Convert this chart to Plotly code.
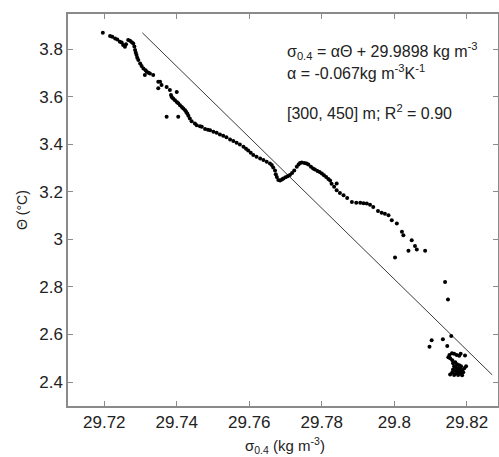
import plotly.graph_objects as go

# Scatter data (sigma_0.4, Theta)
sigma = [
    29.7196, 29.7216, 29.7222, 29.7230, 29.7236, 29.7243, 29.7248, 29.7252, 29.7257, 29.7260,
    29.7266, 29.7271, 29.7276, 29.7280, 29.7283, 29.7285, 29.7287, 29.7289, 29.7291, 29.7294,
    29.7299, 29.7303, 29.7308, 29.7312, 29.7314, 29.7317, 29.7322, 29.7326, 29.7335, 29.7349,
    29.7354, 29.7349, 29.7358, 29.7372, 29.7381, 29.7400, 29.7384, 29.7386, 29.7390, 29.7395,
    29.7400, 29.7404, 29.7409, 29.7414, 29.7418, 29.7423, 29.7426, 29.7429, 29.7432, 29.7436,
    29.7441, 29.7372, 29.7404, 29.7450, 29.7455, 29.7464, 29.7469, 29.7478, 29.7486, 29.7492,
    29.7501, 29.7510, 29.7519, 29.7528, 29.7537, 29.7547, 29.7556, 29.7565, 29.7574, 29.7584,
    29.7591, 29.7597, 29.7604, 29.7611, 29.7620, 29.7630, 29.7639, 29.7648, 29.7657, 29.7662,
    29.7666, 29.7671, 29.7673, 29.7676, 29.7680, 29.7685, 29.7690, 29.7694, 29.7700, 29.7706,
    29.7712, 29.7718, 29.7724, 29.7731, 29.7736, 29.7740, 29.7745, 29.7752, 29.7758, 29.7763,
    29.7770, 29.7776, 29.7781, 29.7788, 29.7794, 29.7800, 29.7806, 29.7812, 29.7818, 29.7823,
    29.7827, 29.7834, 29.7841, 29.7841, 29.7850, 29.7860, 29.7870, 29.7883, 29.7895, 29.7906,
    29.7915, 29.7924, 29.7933, 29.7942, 29.7955, 29.7965, 29.7974, 29.7984, 29.7993, 29.8007,
    29.8021, 29.8025, 29.8048, 29.8057, 29.8062, 29.8039, 29.8085, 29.8002,
    29.8140, 29.8148, 29.8157, 29.8103, 29.8097, 29.8134, 29.8146,
    29.8149, 29.8152, 29.8159, 29.8165, 29.8172, 29.8179, 29.8183, 29.8195, 29.8154, 29.8160,
    29.8162, 29.8168, 29.8173, 29.8179, 29.8184, 29.8165, 29.8170, 29.8176, 29.8182, 29.8187,
    29.8168, 29.8173, 29.8179, 29.8184, 29.8190, 29.8160, 29.8154, 29.8165, 29.8176, 29.8187,
    29.8198, 29.8193, 29.8162, 29.8170,
]
theta = [
    3.870, 3.856, 3.853, 3.846, 3.842, 3.832, 3.829, 3.818, 3.811, 3.822,
    3.840, 3.836, 3.830, 3.825, 3.812, 3.797, 3.786, 3.776, 3.765, 3.755,
    3.741, 3.730, 3.720, 3.692, 3.712, 3.706, 3.702, 3.699, 3.692, 3.664,
    3.664, 3.636, 3.650, 3.642, 3.629, 3.621, 3.608, 3.600, 3.593, 3.586,
    3.579, 3.573, 3.565, 3.558, 3.551, 3.544, 3.537, 3.530, 3.521, 3.509,
    3.498, 3.516, 3.516, 3.488, 3.481, 3.476, 3.474, 3.465, 3.462, 3.460,
    3.453, 3.449, 3.442, 3.437, 3.430, 3.421, 3.414, 3.407, 3.400, 3.390,
    3.382, 3.374, 3.365, 3.355, 3.348, 3.341, 3.334, 3.327, 3.320, 3.313,
    3.303, 3.290, 3.275, 3.263, 3.250, 3.248, 3.252, 3.257, 3.262, 3.266,
    3.271, 3.280, 3.290, 3.306, 3.315, 3.322, 3.324, 3.322, 3.320, 3.315,
    3.306, 3.299, 3.294, 3.288, 3.284, 3.278, 3.270, 3.263, 3.255, 3.248,
    3.235, 3.222, 3.207, 3.236, 3.196, 3.186, 3.174, 3.158, 3.154, 3.154,
    3.152, 3.151, 3.146, 3.137, 3.120, 3.112, 3.108, 3.102, 3.081, 3.067,
    3.032, 3.018, 2.997, 2.972, 2.958, 2.952, 2.952, 2.924,
    2.821, 2.747, 2.594, 2.576, 2.548, 2.580, 2.552,
    2.504, 2.514, 2.521, 2.519, 2.514, 2.510, 2.519, 2.512, 2.500, 2.492,
    2.479, 2.483, 2.475, 2.470, 2.466, 2.466, 2.462, 2.458, 2.453, 2.449,
    2.449, 2.445, 2.441, 2.437, 2.441, 2.441, 2.432, 2.430, 2.430, 2.428,
    2.466, 2.458, 2.453, 2.437,
]

# Fitted line endpoints
fit_sigma = [29.7305, 29.8270]
fit_theta = [3.870, 2.430]

x_ticks = [29.72, 29.74, 29.76, 29.78, 29.80, 29.82]
x_ticktext = ["29.72", "29.74", "29.76", "29.78", "29.8", "29.82"]
y_ticks = [2.4, 2.6, 2.8, 3.0, 3.2, 3.4, 3.6, 3.8]
y_ticktext = ["2.4", "2.6", "2.8", "3", "3.2", "3.4", "3.6", "3.8"]

fig = go.Figure()
fig.add_trace(go.Scatter(x=fit_sigma, y=fit_theta, mode="lines",
                         line=dict(color="#3a3a3a", width=1), showlegend=False))
fig.add_trace(go.Scatter(x=sigma, y=theta, mode="markers",
                         marker=dict(color="black", size=4), showlegend=False))

font = "Liberation Sans, Arial, sans-serif"
axis_common = dict(showgrid=False, zeroline=False, showline=True, linecolor="#8a8a8a",
                   linewidth=1.5, mirror="ticks", ticks="inside", ticklen=5,
                   tickcolor="#8a8a8a", tickwidth=1, automargin=False,
                   tickfont=dict(family=font, size=17, color="#222"))

fig.update_layout(
    width=499, height=457,
    margin=dict(l=68, r=1, t=14, b=51),
    paper_bgcolor="white", plot_bgcolor="white",
    xaxis=dict(range=[29.710, 29.8286], tickvals=x_ticks, ticktext=x_ticktext, **axis_common),
    yaxis=dict(range=[2.299, 3.949], tickvals=y_ticks, ticktext=y_ticktext, **axis_common),
    font=dict(family=font, color="#222"),
)

ann = [
    dict(text="σ<sub>0.4</sub> = αΘ + 29.9898 kg m<sup>-3</sup>", x=0.505, y=0.905),
    dict(text="α = -0.067kg m<sup>-3</sup>K<sup>-1</sup>", x=0.505, y=0.852),
    dict(text="[300, 450] m; R<sup>2</sup> = 0.90", x=0.505, y=0.75),
]
for a in ann:
    fig.add_annotation(xref="paper", yref="paper", xanchor="left", yanchor="middle",
                       showarrow=False, font=dict(family=font, size=16, color="#222"), **a)

fig.add_annotation(text="σ<sub>0.4</sub> (kg m<sup>-3</sup>)", xref="paper", yref="paper",
                   x=0.505, y=-0.10, xanchor="center", yanchor="middle", showarrow=False,
                   font=dict(family=font, size=15, color="#222"))
fig.add_annotation(text="Θ (°C)", xref="paper", yref="paper", textangle=-90,
                   x=-0.107, y=0.50, xanchor="center", yanchor="middle", showarrow=False,
                   font=dict(family=font, size=14, color="#222"))

fig.write_html("out.html", config={"displayModeBar": False},
               post_script="document.body.style.margin='0';")
